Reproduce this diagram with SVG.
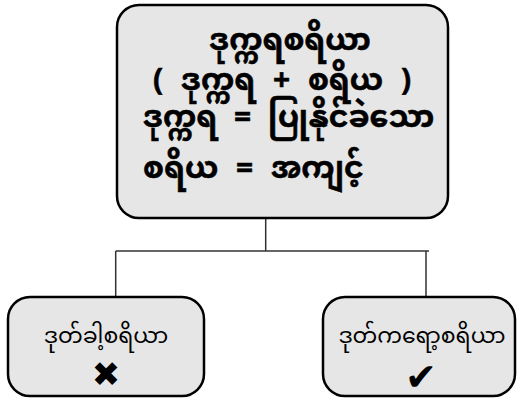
<svg xmlns="http://www.w3.org/2000/svg" width="520" height="405" viewBox="0 0 520 405">
<style>
.box{fill:#e6e6e6;stroke:#000;stroke-width:2.5}
.link{fill:none;stroke:#333;stroke-width:1.5}
.main{font-family:"Noto Sans Myanmar","Padauk","Myanmar Text","Noto Sans",sans-serif;font-weight:bold;font-size:30px;fill:#000;stroke:#000;stroke-width:0.5}
.sub{font-family:"Noto Sans Myanmar","Padauk","Myanmar Text","Noto Sans",sans-serif;font-size:22px;fill:#000;text-anchor:middle}
.sym{font-family:"DejaVu Sans",sans-serif;fill:#000;text-anchor:middle}
</style>
<rect width="520" height="405" fill="#fff"/>
<g id="connectors">
<path class="link" d="M265.7 218V251M115.7 251H429M115.7 251V297M426 251V297"/>
</g>
<g id="root">
<rect class="box" x="117" y="5" width="331" height="213" rx="22"/>
<text class="main" x="290" y="50" text-anchor="middle">ဒုက္ကရစရိယာ</text>
<text class="main" x="153" y="90" style="word-spacing:10px">( ဒုက္ကရ + စရိယ )</text>
<text class="main" x="143" y="127" style="word-spacing:9px">ဒုက္ကရ = ပြုနိုင်ခဲသော</text>
<text class="main" x="143" y="178" style="word-spacing:10px">စရိယ = အကျင့်</text>
</g>
<g id="left">
<rect class="box" x="8" y="297" width="196" height="99" rx="22"/>
<text class="sub" x="106" y="343">ဒုတ်ခါ့စရိယာ</text>
<text class="sym" x="106" y="386" style="font-size:34px">✖</text>
</g>
<g id="right">
<rect class="box" x="323" y="297" width="192" height="99" rx="22"/>
<text class="sub" x="422" y="343">ဒုတ်ကရော့စရိယာ</text>
<text class="sym" x="421" y="390" style="font-size:38px">✔</text>
</g>
</svg>
